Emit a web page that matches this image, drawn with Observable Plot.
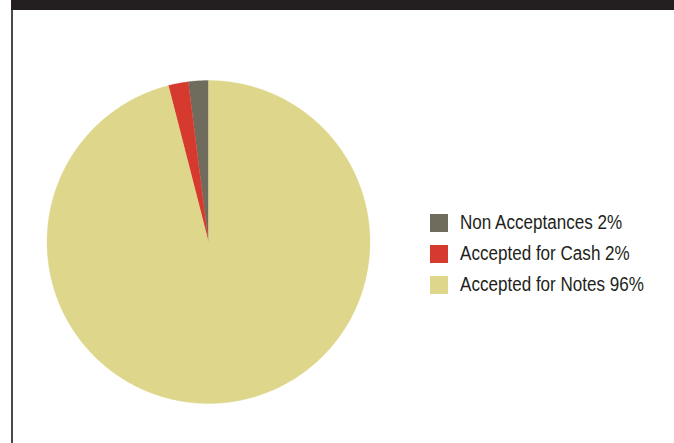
<!DOCTYPE html>
<html>
<head>
<meta charset="utf-8">
<script src="https://cdn.jsdelivr.net/npm/d3@7"></script>
<script src="https://cdn.jsdelivr.net/npm/@observablehq/plot@0.6"></script>
<style>
  html, body { margin: 0; padding: 0; background: #fff; }
  #wrap { position: relative; width: 674px; height: 443px; overflow: hidden; background: #fff; }
  #topbar { position: absolute; left: 11px; top: 0; width: 663px; height: 10px; background: #231f20; }
  #leftline { position: absolute; left: 11px; top: 10px; width: 1.5px; height: 433px; background: #4a4848; }
  #chart { position: absolute; left: 0; top: 0; }
  #legend { position: absolute; left: 430px; top: 207px; font-family: "Liberation Sans", Arial, sans-serif; font-size: 19.5px; color: #231f20; }
  .item { display: flex; align-items: center; height: 31px; white-space: nowrap; }
  .sw { width: 18px; height: 18px; margin-right: 12px; flex: none; }
  .txt { display: inline-block; transform: scaleX(0.875); transform-origin: left center; }
</style>
</head>
<body>
<div id="wrap">
  <div id="chart"></div>
  <div id="topbar"></div>
  <div id="leftline"></div>
  <div id="legend"></div>
</div>
<script>
// Data (order: counter-clockwise from 12 o'clock, also legend order)
const categories = ["Non Acceptances", "Accepted for Cash", "Accepted for Notes"];
const values = [2, 2, 96];
const labels = ["Non Acceptances 2%", "Accepted for Cash 2%", "Accepted for Notes 96%"];
const colors = ["#6f6c5d", "#d63a2f", "#ded68a"];

// Build slice outlines (center + arc) from the cumulative values
const total = d3.sum(values);
const pts = [];
let acc = 0;
categories.forEach((c, i) => {
  const a0 = acc / total * 2 * Math.PI;
  acc += values[i];
  const a1 = acc / total * 2 * Math.PI;
  const n = Math.max(2, Math.ceil((a1 - a0) / (Math.PI / 360)));
  pts.push({cat: c, x: 0, y: 0});
  for (let k = 0; k <= n; k++) {
    const a = a0 + (a1 - a0) * k / n;
    pts.push({cat: c, x: -Math.sin(a), y: Math.cos(a)});
  }
  pts.push({cat: c, x: 0, y: 0});
});

const cx = 208, cy = 241.5, r = 161.5;
const chart = Plot.plot({
  width: 674,
  height: 443,
  margin: 0,
  x: {domain: [-1, 1], range: [cx - r, cx + r], axis: null},
  y: {domain: [-1, 1], range: [cy + r, cy - r], axis: null},
  color: {domain: categories, range: colors},
  marks: [
    Plot.line(pts, {x: "x", y: "y", fill: "cat", z: "cat", stroke: "cat", strokeWidth: 0.3, curve: "linear"})
  ]
});
document.getElementById("chart").appendChild(chart);

const leg = d3.select("#legend");
categories.forEach((c, i) => {
  const it = leg.append("div").attr("class", "item");
  it.append("div").attr("class", "sw").style("background", colors[i]);
  it.append("span").attr("class", "txt").text(labels[i]);
});
</script>
</body>
</html>
